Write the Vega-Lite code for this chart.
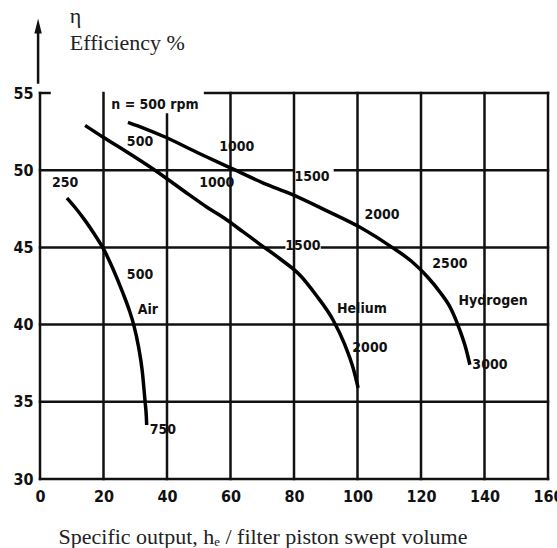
{
  "$schema": "https://vega.github.io/schema/vega-lite/v6.json",
  "width": 508,
  "height": 386,
  "autosize": {"type": "none"},
  "padding": {"left": 40, "top": 93, "right": 9, "bottom": 69},
  "background": "white",
  "config": {"view": {"stroke": null}},
  "datasets": {
    "grid": [
      {"x": 0, "x2": 0, "y": 30, "y2": 55},
      {"x": 20, "x2": 20, "y": 30, "y2": 55},
      {"x": 40, "x2": 40, "y": 30, "y2": 53.6},
      {"x": 60, "x2": 60, "y": 30, "y2": 55},
      {"x": 80, "x2": 80, "y": 30, "y2": 55},
      {"x": 100, "x2": 100, "y": 30, "y2": 55},
      {"x": 120, "x2": 120, "y": 30, "y2": 55},
      {"x": 140, "x2": 140, "y": 30, "y2": 55},
      {"x": 160, "x2": 160, "y": 30, "y2": 55},
      {"x": 0, "x2": 160, "y": 30, "y2": 30},
      {"x": 0, "x2": 160, "y": 35, "y2": 35},
      {"x": 0, "x2": 160, "y": 40, "y2": 40},
      {"x": 0, "x2": 76.9, "y": 45, "y2": 45},
      {"x": 88.8, "x2": 160, "y": 45, "y2": 45},
      {"x": 0, "x2": 79.4, "y": 50, "y2": 50},
      {"x": 92.9, "x2": 160, "y": 50, "y2": 50},
      {"x": 0, "x2": 3, "y": 55, "y2": 55},
      {"x": 52, "x2": 160, "y": 55, "y2": 55}
    ],
    "curves": [
      {"gas": "Air", "x": 8.5, "y": 48.2},
      {"gas": "Air", "x": 11, "y": 47.6},
      {"gas": "Air", "x": 14, "y": 46.8},
      {"gas": "Air", "x": 17, "y": 45.9},
      {"gas": "Air", "x": 20, "y": 44.9},
      {"gas": "Air", "x": 23, "y": 43.6},
      {"gas": "Air", "x": 26, "y": 42.1},
      {"gas": "Air", "x": 28, "y": 41.0},
      {"gas": "Air", "x": 29.5, "y": 40.0},
      {"gas": "Air", "x": 31, "y": 38.6},
      {"gas": "Air", "x": 32.2, "y": 37.0},
      {"gas": "Air", "x": 33.1, "y": 35.0},
      {"gas": "Air", "x": 33.5, "y": 34.0},
      {"gas": "Air", "x": 33.6, "y": 33.5},
      {"gas": "Helium", "x": 14.2, "y": 52.9},
      {"gas": "Helium", "x": 19.8, "y": 52.15},
      {"gas": "Helium", "x": 28, "y": 51.1},
      {"gas": "Helium", "x": 36.2, "y": 50.0},
      {"gas": "Helium", "x": 45, "y": 48.7},
      {"gas": "Helium", "x": 52.6, "y": 47.6},
      {"gas": "Helium", "x": 58, "y": 46.9},
      {"gas": "Helium", "x": 64, "y": 46.0},
      {"gas": "Helium", "x": 69.3, "y": 45.2},
      {"gas": "Helium", "x": 76, "y": 44.2},
      {"gas": "Helium", "x": 81.9, "y": 43.2},
      {"gas": "Helium", "x": 87, "y": 41.9},
      {"gas": "Helium", "x": 92.3, "y": 40.3},
      {"gas": "Helium", "x": 96, "y": 38.7},
      {"gas": "Helium", "x": 98.6, "y": 37.2},
      {"gas": "Helium", "x": 100.2, "y": 35.9},
      {"gas": "Hydrogen", "x": 27.7, "y": 53.1},
      {"gas": "Hydrogen", "x": 33, "y": 52.7},
      {"gas": "Hydrogen", "x": 39.4, "y": 52.15},
      {"gas": "Hydrogen", "x": 50, "y": 51.1},
      {"gas": "Hydrogen", "x": 60.5, "y": 50.1},
      {"gas": "Hydrogen", "x": 70, "y": 49.2},
      {"gas": "Hydrogen", "x": 79.7, "y": 48.4},
      {"gas": "Hydrogen", "x": 90, "y": 47.4},
      {"gas": "Hydrogen", "x": 100.8, "y": 46.3},
      {"gas": "Hydrogen", "x": 110.9, "y": 45.0},
      {"gas": "Hydrogen", "x": 117, "y": 44.1},
      {"gas": "Hydrogen", "x": 122, "y": 43.1},
      {"gas": "Hydrogen", "x": 126, "y": 42.1},
      {"gas": "Hydrogen", "x": 129.5, "y": 41.0},
      {"gas": "Hydrogen", "x": 132.3, "y": 39.6},
      {"gas": "Hydrogen", "x": 134.2, "y": 38.4},
      {"gas": "Hydrogen", "x": 135.4, "y": 37.4}
    ],
    "labels": [
      {"label": "n = 500 rpm", "x": 36.2, "y": 54.2},
      {"label": "1000", "x": 62.0, "y": 51.5},
      {"label": "1500", "x": 85.7, "y": 49.55},
      {"label": "2000", "x": 107.7, "y": 47.1},
      {"label": "2500", "x": 129.1, "y": 43.9},
      {"label": "Hydrogen", "x": 142.7, "y": 41.5},
      {"label": "3000", "x": 141.7, "y": 37.4},
      {"label": "500", "x": 31.5, "y": 51.8},
      {"label": "1000", "x": 55.7, "y": 49.2},
      {"label": "1500", "x": 82.8, "y": 45.1},
      {"label": "Helium", "x": 101.4, "y": 41.0},
      {"label": "2000", "x": 103.9, "y": 38.5},
      {"label": "250", "x": 7.9, "y": 49.2},
      {"label": "500", "x": 31.5, "y": 43.2},
      {"label": "Air", "x": 34.0, "y": 40.95},
      {"label": "750", "x": 38.7, "y": 33.2}
    ],
    "arrow": [{"x": -0.6, "y": 55.6, "y2": 59.0}],
    "arrowhead": [{"x": -0.6, "y": 59.34}],
    "ylabel": [
      {"text": "η", "x": 9.4, "y": 59.55, "size": 22},
      {"text": "Efficiency %", "x": 9.4, "y": 57.8, "size": 22}
    ]
  },
  "layer": [
    {
      "data": {"name": "grid"},
      "mark": {"type": "rule", "color": "#111", "strokeWidth": 2.5, "strokeCap": "square"},
      "encoding": {
        "x": {"field": "x", "type": "quantitative", "scale": {"domain": [0, 160], "nice": false},
          "axis": {"values": [0, 20, 40, 60, 80, 100, 120, 140, 160], "grid": false, "domain": false, "ticks": false,
            "labelFont": "DejaVu Sans Condensed", "labelFontWeight": "bold", "labelFontSize": 16, "labelColor": "#111",
            "labelPadding": 9, "labelFlush": false, "labelOverlap": false,
            "title": "Specific output, hₑ / filter piston swept volume",
            "titleFont": "Liberation Serif", "titleFontWeight": "normal", "titleFontSize": 22, "titleColor": "#222",
            "titleX": 18, "titleY": 64, "titleAlign": "left", "titleAnchor": "start", "titleBaseline": "alphabetic"}},
        "x2": {"field": "x2"},
        "y": {"field": "y", "type": "quantitative", "scale": {"domain": [30, 55], "nice": false},
          "axis": {"values": [30, 35, 40, 45, 50, 55], "grid": false, "domain": false, "ticks": false,
            "labelFont": "DejaVu Sans Condensed", "labelFontWeight": "bold", "labelFontSize": 16, "labelColor": "#111",
            "labelPadding": 7, "labelFlush": false, "labelOverlap": false, "title": null}},
        "y2": {"field": "y2"}
      }
    },
    {
      "data": {"name": "curves"},
      "mark": {"type": "line", "color": "#000", "strokeWidth": 3.5, "interpolate": "monotone"},
      "encoding": {
        "x": {"field": "x", "type": "quantitative"},
        "y": {"field": "y", "type": "quantitative"},
        "detail": {"field": "gas"}
      }
    },
    {
      "data": {"name": "labels"},
      "mark": {"type": "text", "font": "DejaVu Sans Condensed", "fontWeight": "bold", "fontSize": 14, "color": "#111", "align": "center", "baseline": "middle"},
      "encoding": {
        "x": {"field": "x", "type": "quantitative"},
        "y": {"field": "y", "type": "quantitative"},
        "text": {"field": "label"}
      }
    },
    {
      "data": {"name": "arrow"},
      "mark": {"type": "rule", "color": "#111", "strokeWidth": 2.5},
      "encoding": {
        "x": {"field": "x", "type": "quantitative"},
        "y": {"field": "y", "type": "quantitative"},
        "y2": {"field": "y2"}
      }
    },
    {
      "data": {"name": "arrowhead"},
      "mark": {"type": "point", "shape": "M0,-1L0.5,1L-0.5,1Z", "filled": true, "color": "#111", "size": 225, "opacity": 1},
      "encoding": {
        "x": {"field": "x", "type": "quantitative"},
        "y": {"field": "y", "type": "quantitative"}
      }
    },
    {
      "data": {"name": "ylabel"},
      "mark": {"type": "text", "font": "Liberation Serif", "color": "#222", "align": "left", "baseline": "alphabetic"},
      "encoding": {
        "x": {"field": "x", "type": "quantitative"},
        "y": {"field": "y", "type": "quantitative"},
        "text": {"field": "text"},
        "size": {"field": "size", "type": "quantitative", "scale": null}
      }
    }
  ]
}
